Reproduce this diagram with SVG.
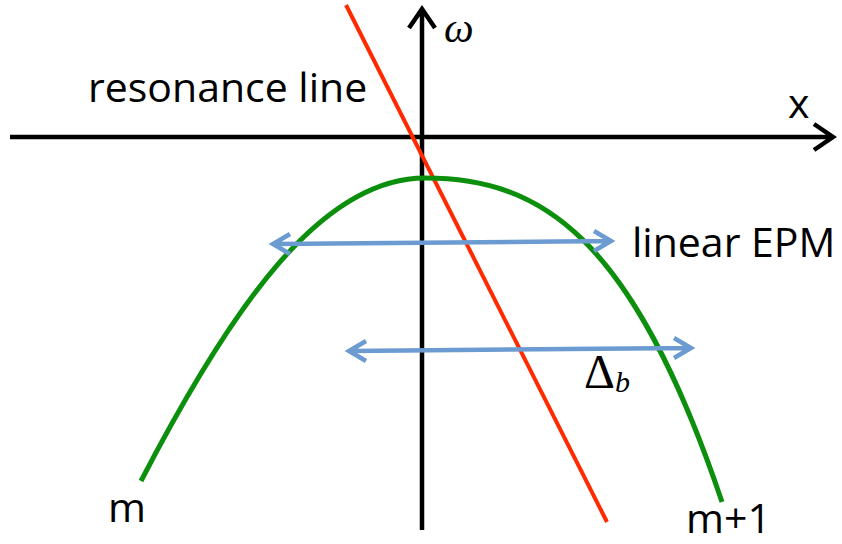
<svg xmlns="http://www.w3.org/2000/svg" width="842" height="544" viewBox="0 0 842 544">
<style>
.ax{stroke:#000;stroke-width:4.5;fill:none}
.t{font-family:"Open Sans","Liberation Sans",sans-serif;font-size:41px;fill:#000}
.blue{stroke:#6c9bd2;stroke-width:4.5;fill:none}
</style>
<rect width="842" height="544" fill="#fff"/>
<g id="connectors">
<path class="ax" d="M10,137 H832 M814,124 L833,137 L814,150"/>
<path class="ax" d="M422,530 V10 M409,28 L422,9 L435,28"/>
<path d="M346,5 L607,522" stroke="#ff2a00" stroke-width="4" fill="none"/>
<path d="M141,481 C230,310 320,178 425,178 C540,178 632,235 722,502" stroke="#0c8f0c" stroke-width="5" fill="none"/>
<path class="blue" d="M274,244 L610,241 M290,234 L273,244 L290,254 M594,231 L611,241 L594,251"/>
<path class="blue" d="M350,351 L690,348 M366,341 L349,351 L366,361 M674,338 L691,348 L674,358"/>
</g>
<g id="labels">
<text class="t" x="88" y="102">resonance line</text>
<text class="t" x="788" y="118">x</text>
<text x="444" y="42" font-family="Liberation Serif,serif" font-style="italic" font-size="42">ω</text>
<text class="t" x="632" y="257">linear EPM</text>
<text x="584" y="388" font-family="Liberation Serif,serif" font-size="48">Δ<tspan font-style="italic" font-size="30" dy="4">b</tspan></text>
<text class="t" x="108" y="522">m</text>
<text class="t" x="686" y="533">m+1</text>
</g>
</svg>
